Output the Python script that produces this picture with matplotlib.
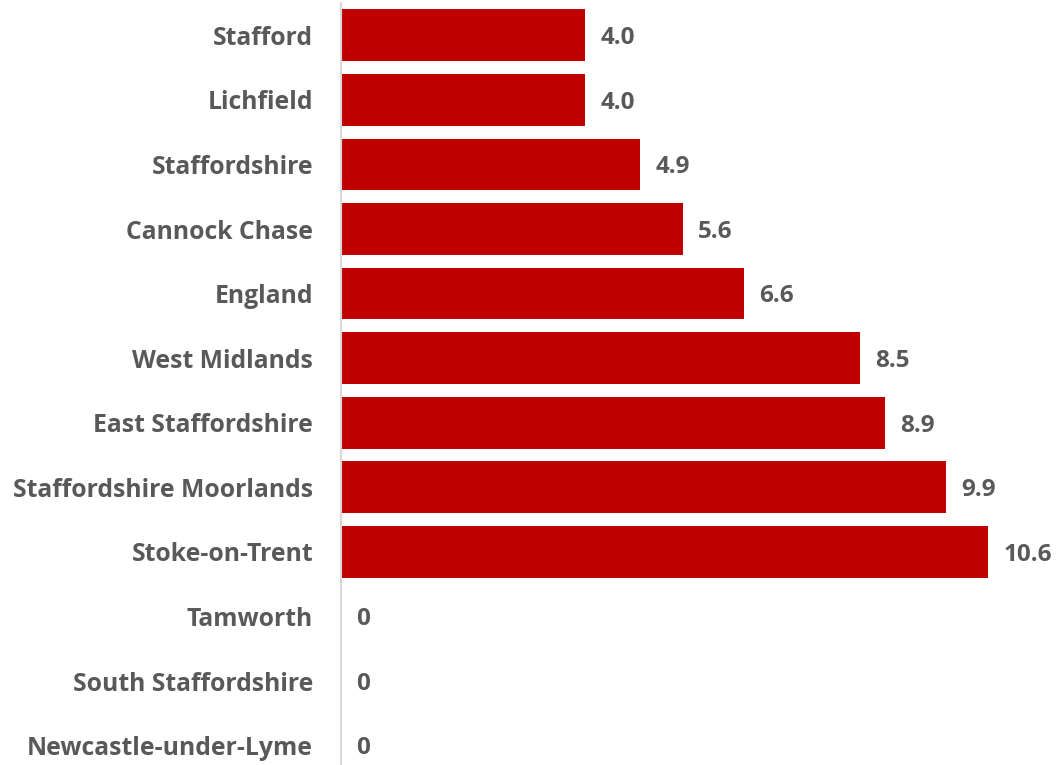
import matplotlib.pyplot as plt

areas = ['Stafford', 'Lichfield', 'Staffordshire', 'Cannock Chase', 'England',
         'West Midlands', 'East Staffordshire', 'Staffordshire Moorlands',
         'Stoke-on-Trent', 'Tamworth', 'South Staffordshire', 'Newcastle-under-Lyme']
values = [4.0, 4.0, 4.9, 5.6, 6.6, 8.5, 8.9, 9.9, 10.6, 0, 0, 0]
labels = ['4.0', '4.0', '4.9', '5.6', '6.6', '8.5', '8.9', '9.9', '10.6', '0', '0', '0']

plt.rcParams['font.family'] = ['Open Sans', 'DejaVu Sans']
txt = '#595959'

fig = plt.figure(figsize=(10.63, 7.65), dpi=100)
ax = fig.add_axes([341 / 1063, 0, (1063 - 341) / 1063, 1 - 3 / 765])

y = list(range(len(areas)))
ax.barh(y, values, height=0.8, color='#C00000', zorder=2)
for yi, v, lab in zip(y, values, labels):
    ax.annotate(lab, (v, yi), xytext=(11, -2), textcoords='offset points',
                va='center', ha='left', fontsize=17.5, fontweight='bold', color=txt)

ax.set_xlim(0, 11.82)
ax.set_ylim(11.3, -0.5)
ax.set_yticks(y)
ax.set_yticklabels(areas, fontsize=17.8, fontweight='bold', color=txt)
ax.tick_params(axis='y', length=0, pad=20)
ax.set_xticks([])
for s in ['top', 'right', 'bottom']:
    ax.spines[s].set_visible(False)
ax.spines['left'].set_color('#D9D9D9')
ax.spines['left'].set_linewidth(1.5)

fig.savefig('out.png', dpi=100)
